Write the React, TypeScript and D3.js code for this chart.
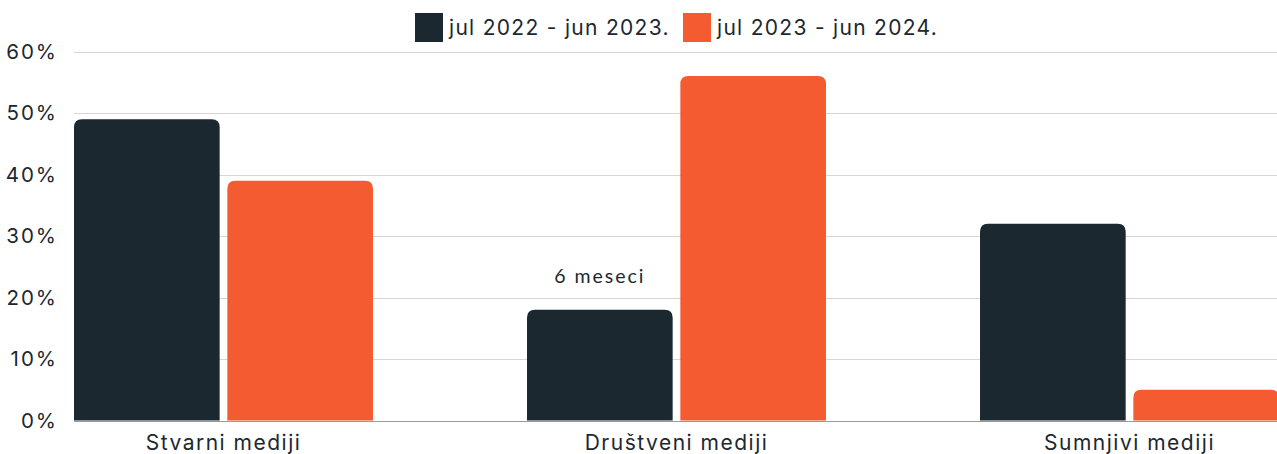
import React from "react";
import * as d3 from "d3";

const categories = ["Stvarni mediji", "Društveni mediji", "Sumnjivi mediji"];
const seriesNames = ["jul 2022 - jun 2023.", "jul 2023 - jun 2024."];
const series2223 = [49, 18, 32];
const series2324 = [39, 56, 5];
const yTicks = [0, 10, 20, 30, 40, 50, 60];
const annotation = { category: "Društveni mediji", series: 0, text: "6 meseci" };

const W = 1277;
const H = 454;
const colors = ["#1c2830", "#f55b31"];
const textColor = "#1c2830";
const font = "Inter, sans-serif";

function roundedTop(x: number, y: number, w: number, h: number, r: number) {
  const rr = Math.min(r, h, w / 2);
  return `M${x},${y + h}V${y + rr}Q${x},${y} ${x + rr},${y}H${x + w - rr}Q${x + w},${y} ${x + w},${y + rr}V${y + h}Z`;
}

export default function App() {
  const left = 74;
  const right = 1279;
  const y = d3.scaleLinear().domain([0, 60]).range([420.5, 51.5]);
  const x0 = d3.scaleBand<string>().domain(categories).range([left, right]).paddingInner(0.34).paddingOuter(0);
  const x1 = d3.scaleBand<string>().domain(["0", "1"]).range([0, x0.bandwidth()]).paddingInner(0.05);
  const data = [series2223, series2324];

  return (
    <svg width={W} height={H} style={{ position: "absolute", left: 0, top: 0, display: "block" }} fontFamily={font}>
      {yTicks.map((t) => (
        <g key={t}>
          <line x1={left} x2={W} y1={Math.round(y(t)) + 0.5} y2={Math.round(y(t)) + 0.5} stroke={t === 0 ? "#9a9a9a" : "#d6d6d6"} strokeWidth={1} />
          <text x={58} y={y(t)} dy="0.36em" textAnchor="end" fontSize={20.5} letterSpacing={2} fill={textColor}>{t}%</text>
        </g>
      ))}
      {categories.map((c, i) => (
        <g key={c} transform={`translate(${x0(c)},0)`}>
          {data.map((s, si) => {
            const bx = x1(String(si))!;
            const top = y(s[i]);
            return (
              <path key={si} d={roundedTop(bx, top, x1.bandwidth(), y(0) - top, 8)} fill={colors[si]} />
            );
          })}
          <text x={x0.bandwidth() / 2} y={450} textAnchor="middle" fontSize={21} letterSpacing={1.5} fill={textColor}>{c}</text>
        </g>
      ))}
      {(() => {
        const ci = categories.indexOf(annotation.category);
        const v = data[annotation.series][ci];
        const cx = x0(annotation.category)! + x1(String(annotation.series))! + x1.bandwidth() / 2;
        return (
          <text x={cx} y={y(v) - 27} textAnchor="middle" fontSize={19.5} fontFamily="Lato, sans-serif" letterSpacing={2} fill={textColor}>{annotation.text}</text>
        );
      })()}
      <g>
        {seriesNames.map((n, i) => {
          const lx = [415, 683][i];
          return (
            <g key={n}>
              <rect x={lx} y={13} width={28} height={29} fill={colors[i]} />
              <text x={lx + 34} y={27.5} dy="0.36em" fontSize={21} letterSpacing={1.3} fill={textColor}>{n}</text>
            </g>
          );
        })}
      </g>
    </svg>
  );
}
